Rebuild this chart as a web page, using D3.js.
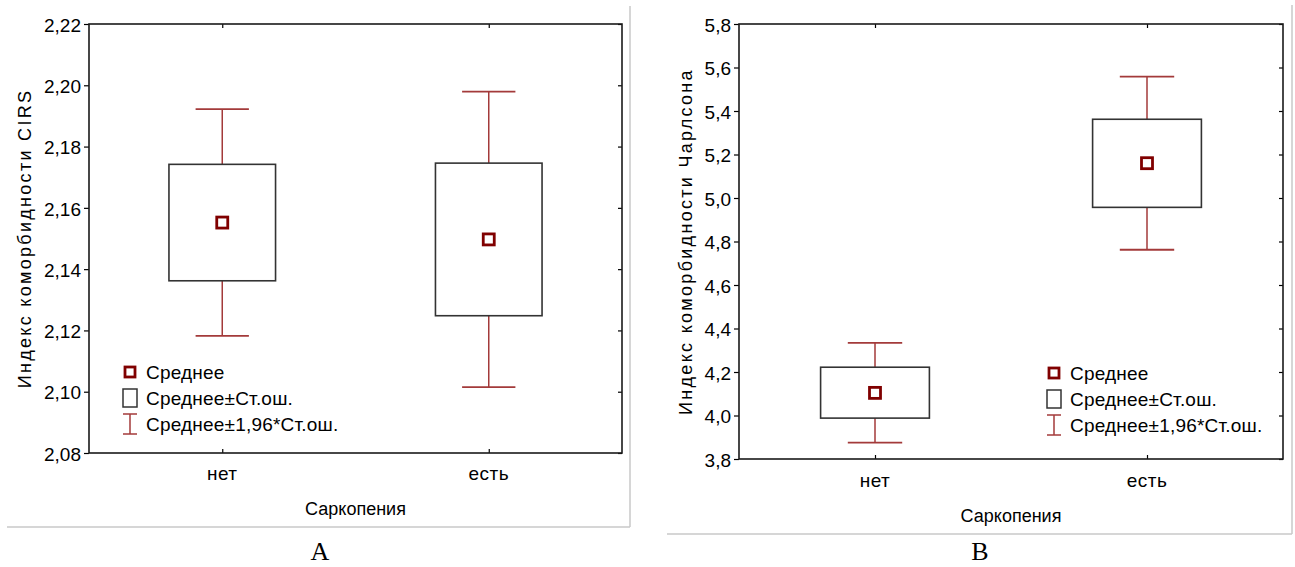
<!DOCTYPE html>
<html><head><meta charset="utf-8">
<script src="https://cdn.jsdelivr.net/npm/d3@7"></script>
<style>
html,body{margin:0;padding:0;background:#fff;}
svg{display:block;}
text{font-family:"Liberation Sans",Arial,sans-serif;fill:#000;}
</style></head>
<body>
<svg id="c" width="1295" height="567"></svg>
<script>
// ---- data ----
const categories = ["нет", "есть"];

// Panel A: CIRS
const cirsMean   = [2.1552, 2.1497];
const cirsSeLow  = [2.1362, 2.1248];
const cirsSeHigh = [2.1742, 2.1746];
const cirsCiLow  = [2.1182, 2.1015];
const cirsCiHigh = [2.1922, 2.1979];
const cirsTicks  = [2.08, 2.10, 2.12, 2.14, 2.16, 2.18, 2.20, 2.22];

// Panel B: Charlson
const chMean   = [4.104, 5.160];
const chSeLow  = [3.988, 4.957];
const chSeHigh = [4.222, 5.362];
const chCiLow  = [3.875, 4.762];
const chCiHigh = [4.334, 5.558];
const chTicks  = [3.8, 4.0, 4.2, 4.4, 4.6, 4.8, 5.0, 5.2, 5.4, 5.6, 5.8];

const legendLabels = ["Среднее", "Среднее±Ст.ош.", "Среднее±1,96*Ст.ош."];
const xTitle = "Саркопения";
const panelLetters = ["A", "B"];

const MEAN_C = "#800000", WHISK_C = "#a33a3a", BOX_C = "#333333";
const svg = d3.select("#c");

function drawPanel(cfg) {
  const g = svg.append("g");
  const x = d3.scalePoint().domain(cfg.cats).range([cfg.x0, cfg.x1]).padding(0.5);
  const y = d3.scaleLinear().domain(cfg.domain).range([cfg.y1, cfg.y0]);
  const W = cfg.x1 - cfg.x0;
  const fmt = v => cfg.fmt(v).replace(".", ",");

  // screenshot-like panel edges
  g.append("line").attr("x1", cfg.gx1).attr("x2", cfg.gx1).attr("y1", cfg.gy0).attr("y2", cfg.gy1)
    .attr("stroke", "#c8c8c8").attr("stroke-width", 1.5);
  g.append("line").attr("x1", cfg.gx0).attr("x2", cfg.gx1).attr("y1", cfg.gy1).attr("y2", cfg.gy1)
    .attr("stroke", "#c8c8c8").attr("stroke-width", 1.5);

  // axes
  const left = d3.axisLeft(y).tickValues(cfg.ticks).tickFormat(fmt).tickSize(5).tickPadding(3);
  const la = g.append("g").attr("transform", `translate(${cfg.x0},0)`).call(left);
  la.select(".domain").remove();
  la.selectAll("line").attr("stroke", "#000").attr("stroke-width", 1.2);
  la.selectAll("text").style("font-size", "19px").attr("dy", "0.38em");

  const right = d3.axisLeft(y).tickValues(cfg.ticks).tickFormat("").tickSize(4);
  const ra = g.append("g").attr("transform", `translate(${cfg.x1},0)`).call(right);
  ra.select(".domain").remove();
  ra.selectAll("line").attr("stroke", "#000").attr("stroke-width", 1.2);

  const bottom = d3.axisTop(x).tickSize(4).tickFormat("");
  const ba = g.append("g").attr("transform", `translate(0,${cfg.y1})`).call(bottom);
  ba.select(".domain").remove();
  ba.selectAll("line").attr("stroke", "#000").attr("stroke-width", 1.2);
  const top = d3.axisBottom(x).tickSize(4).tickFormat("");
  const ta = g.append("g").attr("transform", `translate(0,${cfg.y0})`).call(top);
  ta.select(".domain").remove();
  ta.selectAll("line").attr("stroke", "#000").attr("stroke-width", 1.2);

  // frame
  g.append("rect").attr("x", cfg.x0).attr("y", cfg.y0).attr("width", W).attr("height", cfg.y1 - cfg.y0)
    .attr("fill", "none").attr("stroke", "#1a1a1a").attr("stroke-width", 1.6);

  // category labels
  g.selectAll(".cl").data(cfg.cats).enter().append("text")
    .attr("x", d => x(d)).attr("y", cfg.catY).attr("text-anchor", "middle")
    .style("font-size", "19px").style("letter-spacing", "0.5px").text(d => d);

  // x title
  g.append("text").attr("x", (cfg.x0 + cfg.x1) / 2 + cfg.xtDx).attr("y", cfg.xtY).attr("text-anchor", "middle")
    .style("font-size", "18px").text(xTitle);

  // y title
  g.append("text").attr("transform", `translate(${cfg.ytX},${(cfg.y0 + cfg.y1) / 2}) rotate(-90)`)
    .attr("text-anchor", "middle").style("font-size", "18px").style("letter-spacing", cfg.ls)
    .text(cfg.yTitle);

  const boxW = W * 0.2, capW = W * 0.1;
  cfg.cats.forEach((c, i) => {
    const cx = x(c);
    // whiskers
    g.append("line").attr("x1", cx).attr("x2", cx).attr("y1", y(cfg.ciHigh[i])).attr("y2", y(cfg.seHigh[i]))
      .attr("stroke", WHISK_C).attr("stroke-width", 1.5);
    g.append("line").attr("x1", cx).attr("x2", cx).attr("y1", y(cfg.seLow[i])).attr("y2", y(cfg.ciLow[i]))
      .attr("stroke", WHISK_C).attr("stroke-width", 1.5);
    [cfg.ciHigh[i], cfg.ciLow[i]].forEach(v => {
      g.append("line").attr("x1", cx - capW / 2).attr("x2", cx + capW / 2).attr("y1", y(v)).attr("y2", y(v))
        .attr("stroke", WHISK_C).attr("stroke-width", 1.8);
    });
    // box
    g.append("rect").attr("x", cx - boxW / 2).attr("y", y(cfg.seHigh[i]))
      .attr("width", boxW).attr("height", y(cfg.seLow[i]) - y(cfg.seHigh[i]))
      .attr("fill", "none").attr("stroke", BOX_C).attr("stroke-width", 1.6);
    // mean
    g.append("rect").attr("x", cx - 5.5).attr("y", y(cfg.mean[i]) - 5.5).attr("width", 11).attr("height", 11)
      .attr("fill", "#fff").attr("stroke", MEAN_C).attr("stroke-width", 2.8);
  });

  // legend
  const lg = g.append("g");
  const lx = cfg.legX, ly = cfg.legY, dy = 26;
  lg.append("rect").attr("x", lx - 5).attr("y", ly - 5).attr("width", 10).attr("height", 10)
    .attr("fill", "#fff").attr("stroke", MEAN_C).attr("stroke-width", 2.8);
  lg.append("rect").attr("x", lx - 7).attr("y", ly + dy - 9).attr("width", 14).attr("height", 18)
    .attr("fill", "none").attr("stroke", BOX_C).attr("stroke-width", 1.5);
  const ey = ly + 2 * dy;
  lg.append("line").attr("x1", lx).attr("x2", lx).attr("y1", ey - 10).attr("y2", ey + 10)
    .attr("stroke", WHISK_C).attr("stroke-width", 1.5);
  [ey - 10, ey + 10].forEach(v => lg.append("line").attr("x1", lx - 7).attr("x2", lx + 7)
    .attr("y1", v).attr("y2", v).attr("stroke", WHISK_C).attr("stroke-width", 1.5));
  legendLabels.forEach((t, i) => {
    lg.append("text").attr("x", lx + 16).attr("y", ly + i * dy).attr("dy", "0.38em")
      .style("font-size", "19px").style("letter-spacing", "0.2px").text(t);
  });

  // panel letter
  svg.append("text").attr("x", cfg.letterX).attr("y", 560).attr("text-anchor", "middle")
    .style("font-family", "'Liberation Serif','Times New Roman',serif").style("font-size", "26px")
    .text(cfg.letter);
}

drawPanel({
  cats: categories, domain: [2.08, 2.22], ticks: cirsTicks, fmt: d3.format(".2f"),
  x0: 89, x1: 622, y0: 24, y1: 453,
  gx0: 7, gx1: 630, gy0: 6, gy1: 527,
  mean: cirsMean, seLow: cirsSeLow, seHigh: cirsSeHigh, ciLow: cirsCiLow, ciHigh: cirsCiHigh,
  catY: 480, xtY: 515, xtDx: 0, ytX: 31, ls: "2.3px",
  yTitle: "Индекс коморбидности CIRS",
  legX: 130, legY: 372, letter: panelLetters[0], letterX: 320
});

drawPanel({
  cats: categories, domain: [3.8, 5.8], ticks: chTicks, fmt: d3.format(".1f"),
  x0: 739, x1: 1283, y0: 24, y1: 459,
  gx0: 667, gx1: 1292, gy0: 5, gy1: 534,
  mean: chMean, seLow: chSeLow, seHigh: chSeHigh, ciLow: chCiLow, ciHigh: chCiHigh,
  catY: 487, xtY: 522, xtDx: 0, ytX: 692, ls: "2.3px",
  yTitle: "Индекс коморбидности Чарлсона",
  legX: 1054, legY: 373, letter: panelLetters[1], letterX: 980
});
</script>
</body></html>
